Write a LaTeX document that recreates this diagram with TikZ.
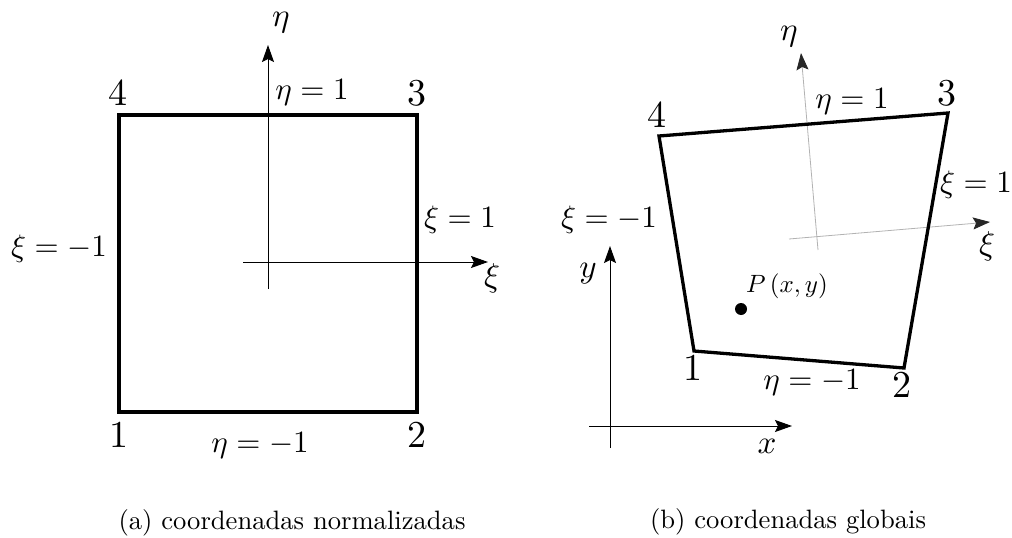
\documentclass[tikz,border=0pt]{standalone}
\usetikzlibrary{arrows.meta}
\newcommand{\mlabtxt}[1]{\scalebox{3.1}{#1}}
\newcommand{\alabtxt}[1]{\scalebox{3.3}{#1}}
\newcommand{\numtxt}[1]{\scalebox{3.8}{#1}}
\newcommand{\plabtxt}[1]{\scalebox{2.5}{#1}}
\newcommand{\captxt}[1]{\scalebox{2.66}{#1}}
\begin{document}
\begin{tikzpicture}[x=1pt,y=-1pt,
  elem/.style={line width=3.3pt, line join=miter},
  axis/.style={line width=1pt, -{Stealth[length=17pt,width=12pt,inset=3pt]}},
  gaxis/.style={line width=0.8pt, draw=black!30, -{Stealth[length=17pt,width=12pt,inset=3pt,black!85]}},
  lab/.style={anchor=base, inner sep=0pt}]
\useasboundingbox (0,0) rectangle (1012,538);

% ---------- (a) normalized ----------
\coordinate (a1) at (119,412);
\coordinate (a2) at (417,412);
\coordinate (a3) at (417,115);
\coordinate (a4) at (119,115);
\coordinate (axs) at (243,262);
\coordinate (axe) at (488,262);
\coordinate (aes) at (268,289);
\coordinate (aee) at (268,45);
\draw[axis] (axs) -- (axe);
\draw[axis] (aes) -- (aee);
\draw[elem] (a1) -- (a2) -- (a3) -- (a4) -- cycle;

\node[lab] (aeta) at (281,27) {\alabtxt{$\eta$}};
\node[lab] (axi) at (492,286) {\alabtxt{$\xi$}};
\node[lab] (aetap) at (312,99) {\mlabtxt{$\eta=1$}};
\node[lab] (aetam) at (260,452) {\mlabtxt{$\eta=-1$}};
\node[lab] (axip) at (460,227) {\mlabtxt{$\xi=1$}};
\node[lab] (axim) at (59,256) {\mlabtxt{$\xi=-1$}};
\node[lab] (an4) at (118,105) {\numtxt{4}};
\node[lab] (an3) at (417,105) {\numtxt{3}};
\node[lab] (an1) at (119,447) {\numtxt{1}};
\node[lab] (an2) at (417,447) {\numtxt{2}};
\node[lab] (capa) at (292,529) {\captxt{(a) coordenadas normalizadas}};

% ---------- (b) global ----------
\coordinate (b1) at (694,351);
\coordinate (b2) at (904,368);
\coordinate (b3) at (948,113);
\coordinate (b4) at (659,136);
\coordinate (bxs) at (789,239);
\coordinate (bxe) at (990,222);
\coordinate (bes) at (818,250);
\coordinate (bee) at (801,53);
\coordinate (gxs) at (589,426);
\coordinate (gxe) at (792,426);
\coordinate (gys) at (610,448);
\coordinate (gye) at (610,246);
\draw[gaxis] (bxs) -- (bxe);
\draw[gaxis] (bes) -- (bee);
\draw[axis] (gxs) -- (gxe);
\draw[axis] (gys) -- (gye);
\draw[elem] (b1) -- (b2) -- (b3) -- (b4) -- cycle;
\fill (741,309) circle (6);

\node[lab] (beta) at (789,40) {\alabtxt{$\eta$}};
\node[lab] (bxi) at (987,254) {\alabtxt{$\xi$}};
\node[lab] (betap) at (852,108) {\mlabtxt{$\eta=1$}};
\node[lab] (betam) at (812,389) {\mlabtxt{$\eta=-1$}};
\node[lab] (bxip) at (976,192) {\mlabtxt{$\xi=1$}};
\node[lab] (bxim) at (609,227) {\mlabtxt{$\xi=-1$}};
\node[lab] (bn4) at (657,127) {\numtxt{4}};
\node[lab] (bn3) at (947,105) {\numtxt{3}};
\node[lab] (bn1) at (693,380) {\numtxt{1}};
\node[lab] (bn2) at (902,397) {\numtxt{2}};
\node[lab] (gy) at (588,277) {\alabtxt{$y$}};
\node[lab] (gx) at (767,453) {\alabtxt{$x$}};
\node[lab] (pl) at (787,292) {\plabtxt{$P\,(x,y)$}};
\node[lab] (capb) at (788,528) {\captxt{(b) coordenadas globais}};
\end{tikzpicture}
\end{document}
